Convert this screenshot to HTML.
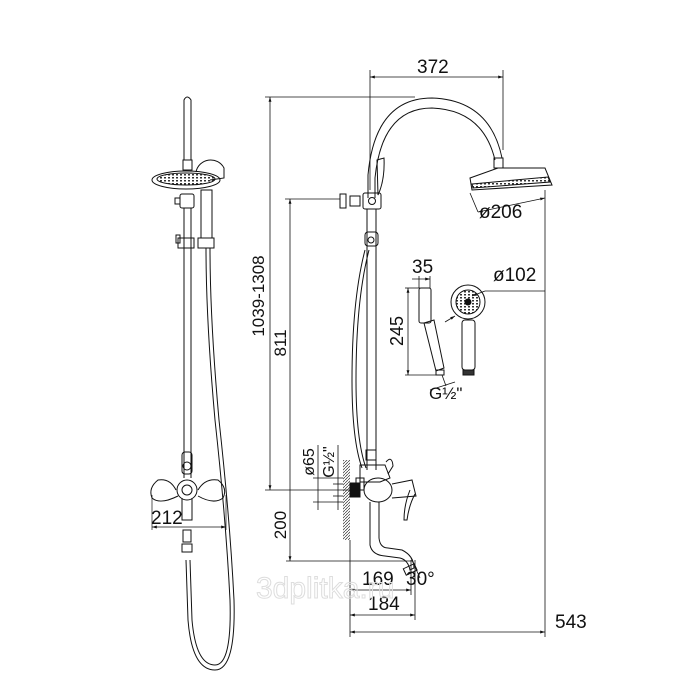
<!DOCTYPE html>
<html><head><meta charset="utf-8"><style>
html,body{margin:0;padding:0;background:#fff;width:700px;height:700px;overflow:hidden}
svg{display:block}
text{font-family:"Liberation Sans",sans-serif;fill:#111}
</style></head><body>
<svg width="700" height="700" viewBox="0 0 700 700" xmlns="http://www.w3.org/2000/svg">
<defs>
<marker id="a" viewBox="0 0 10 10" refX="10" refY="5" markerWidth="6" markerHeight="6" orient="auto-start-reverse"><path d="M0,2 L10,5 L0,8z" fill="#111"/></marker>
<pattern id="h" width="3" height="3" patternUnits="userSpaceOnUse"><path d="M0,3 L3,0" stroke="#333" stroke-width="0.7"/></pattern>
<pattern id="d" width="4" height="3" patternUnits="userSpaceOnUse"><rect x="0" y="0" width="2" height="1.5" fill="#333"/></pattern>
</defs>
<g fill="none" stroke="#111" stroke-width="1">
<path d="M184,100 Q187,94 191,100 L191,160 L184,160 Z"/>
<rect x="183" y="160" width="9" height="10"/>
<ellipse cx="186" cy="180" rx="34" ry="9"/>
<ellipse cx="186" cy="179" rx="29" ry="6" fill="url(#d)"/>
<path d="M196,172 A15,15 0 0 1 224,168 L224,178 L210,180"/>
<rect x="180" y="194" width="14" height="14" rx="2"/>
<rect x="175" y="198" width="5" height="6"/>
<line x1="184" y1="208" x2="184" y2="478"/><line x1="191" y1="208" x2="191" y2="478"/>
<rect x="201" y="190" width="11" height="48"/>
<rect x="198" y="238" width="16" height="10"/>
<rect x="178" y="238" width="16" height="10"/>
<rect x="176" y="235" width="4" height="8"/>
<path d="M206,248 Q206,320 215,420 Q226,520 230,600 Q232,665 215,665 Q196,665 192,620 L190,560"/>
<path d="M210,248 Q210,320 219,420 Q230,520 234,600 Q236,670 215,670 Q192,670 188,620 L186,560"/>
<rect x="182" y="452" width="10" height="22" rx="3"/>
<circle cx="187" cy="466" r="4"/>
<path d="M176,490 Q170,478 158,480 Q148,488 152,498 Q160,505 178,496"/>
<path d="M198,490 Q205,478 218,480 Q228,488 223,498 Q214,505 198,496"/>
<circle cx="187" cy="490" r="10"/><circle cx="187" cy="490" r="5"/>
<path d="M182,498 L182,520 L192,520 L192,498"/>
<rect x="183" y="530" width="8" height="12"/>
<rect x="182" y="544" width="10" height="8"/>
<line x1="152" y1="495" x2="152" y2="530" stroke-width="0.7"/>
<line x1="226" y1="495" x2="226" y2="530" stroke-width="0.7"/>
<line x1="152" y1="527" x2="226" y2="527" stroke-width="0.8" marker-start="url(#a)" marker-end="url(#a)"/>

<g stroke-width="0.8">
<line x1="265" y1="97" x2="415" y2="97"/>
<line x1="270" y1="97" x2="270" y2="490" marker-start="url(#a)" marker-end="url(#a)"/>
<line x1="285" y1="199" x2="340" y2="199"/>
<line x1="290" y1="199" x2="290" y2="490" marker-start="url(#a)"/>
<line x1="265" y1="490" x2="350" y2="490"/>
<line x1="290" y1="490" x2="290" y2="561" marker-end="url(#a)"/>
<line x1="286" y1="561" x2="412" y2="561"/>
<line x1="370" y1="70" x2="370" y2="190"/>
<line x1="503" y1="70" x2="503" y2="150"/>
<line x1="370" y1="77" x2="503" y2="77" marker-start="url(#a)" marker-end="url(#a)"/>
<line x1="545" y1="190" x2="545" y2="637"/>
<line x1="350" y1="540" x2="350" y2="637"/>
<line x1="411" y1="560" x2="411" y2="595"/>
<line x1="415" y1="560" x2="415" y2="620"/>
<line x1="350" y1="590" x2="411" y2="590" marker-start="url(#a)" marker-end="url(#a)"/>
<line x1="350" y1="615" x2="415" y2="615" marker-start="url(#a)" marker-end="url(#a)"/>
<line x1="350" y1="632" x2="545" y2="632" marker-start="url(#a)" marker-end="url(#a)"/>
<line x1="411" y1="558" x2="420" y2="578"/>
<line x1="478" y1="212" x2="545" y2="198" marker-start="url(#a)" marker-end="url(#a)"/>
<line x1="470" y1="193" x2="478" y2="212"/>
<line x1="318" y1="445" x2="318" y2="510"/>
<line x1="338" y1="445" x2="338" y2="510"/>
<line x1="313" y1="478" x2="343" y2="478"/><line x1="313" y1="502" x2="343" y2="502"/>
<line x1="333" y1="484" x2="343" y2="484"/><line x1="333" y1="496" x2="343" y2="496"/>
<line x1="405" y1="288" x2="420" y2="288"/>
<line x1="405" y1="375" x2="440" y2="375"/>
<line x1="408" y1="288" x2="408" y2="375" marker-start="url(#a)" marker-end="url(#a)"/>
<line x1="419" y1="276" x2="419" y2="288"/><line x1="430" y1="276" x2="430" y2="288"/>
<line x1="412" y1="279" x2="430" y2="279" marker-end="url(#a)"/>
<line x1="430" y1="390" x2="455" y2="382" /><line x1="442" y1="375" x2="446" y2="386"/>
<line x1="485" y1="291" x2="545" y2="291"/>
<line x1="485" y1="291" x2="472" y2="296" marker-end="url(#a)"/>
<line x1="445" y1="322" x2="455" y2="316" marker-end="url(#a)"/>
</g>

<path d="M368,198 L368,175 Q375,98 432,98 Q490,100 502,158"/>
<path d="M375,198 L375,178 Q382,108 432,108 Q483,110 495,160"/>
<rect x="494" y="158" width="9" height="10"/>
<path d="M470,178 L498,168 L545,168 L552,185 L472,190 Z"/>
<path d="M472,184 L548,177 L550,182 L473,188 Z" fill="url(#d)"/>
<path d="M377,160 L384,158 Q385,180 378,195 Z"/>
<rect x="363" y="193" width="18" height="16" rx="2"/>
<circle cx="372" cy="201" r="3.5"/>
<rect x="350" y="196" width="10" height="10"/>
<rect x="340" y="194" width="6" height="14"/>
<line x1="367" y1="209" x2="367" y2="470"/><line x1="376" y1="209" x2="376" y2="470"/>
<rect x="365" y="232" width="13" height="14" rx="3"/><circle cx="371" cy="240" r="3"/>
<path d="M365,250 Q352,300 352,380 Q352,440 362,468"/>
<path d="M369,250 Q356,300 356,380 Q356,440 366,468"/>
<rect x="366" y="450" width="10" height="10"/>
<path d="M360,465 L385,465 L390,478 L380,482 L360,482 Z"/>
<path d="M386,462 Q392,455 393,466 L388,474"/>
<rect x="356" y="478" width="8" height="12"/>
<rect x="343" y="460" width="7" height="80" fill="url(#h)" stroke="none"/>
<rect x="350" y="483" width="10" height="14" fill="#111"/>
<ellipse cx="378" cy="490" rx="14" ry="12"/>
<path d="M392,484 L412,480 L416,496 L392,498"/>
<path d="M410,490 Q404,505 404,520 L407,520 Q409,505 415,494"/>
<path d="M370,502 L370,545 Q372,555 385,556 L400,558 Q408,560 410,570 L414,568 Q414,556 402,550 L388,548 Q380,548 379,538 L379,502"/>
<rect x="404" y="566" width="12" height="7" transform="rotate(-25 410 569)"/>
<rect x="419" y="288" width="12" height="35" rx="2"/>
<path d="M424,323 L434,320 L444,368 L436,371 Z"/>
<rect x="436" y="370" width="8" height="5"/>
<circle cx="468" cy="302" r="17"/><circle cx="468" cy="302" r="12" fill="url(#d)"/>
<circle cx="468" cy="302" r="3" fill="#111"/>
<rect x="462" y="320" width="13" height="50" rx="3"/>
<rect x="463" y="370" width="11" height="5" fill="#333"/>
</g>
<g font-size="19">
<text x="151" y="524">212</text>
<text x="417" y="73">372</text>
<text x="479" y="218">ø206</text>
<text x="412" y="273">35</text>
<text x="493" y="281">ø102</text>
<text x="429" y="399" font-size="17">G½"</text>
<text x="555" y="628">543</text>
<text x="362" y="585">169</text>
<text x="368" y="610">184</text>
<text x="406" y="585">30°</text>
</g>
<text transform="translate(264,296) rotate(-90)" font-size="17" text-anchor="middle">1039-1308</text>
<text transform="translate(286,343) rotate(-90)" font-size="17" text-anchor="middle">811</text>
<text transform="translate(286,525) rotate(-90)" font-size="17" text-anchor="middle">200</text>
<text transform="translate(403,331) rotate(-90)" font-size="18" text-anchor="middle">245</text>
<text transform="translate(314,462) rotate(-90)" font-size="16" text-anchor="middle">ø65</text>
<text transform="translate(334,462) rotate(-90)" font-size="16" text-anchor="middle">G½"</text>
<text x="256" y="598" font-size="30" stroke="#ddd" stroke-width="1" style="fill:none">3dplitka.ru</text>
</svg>
</body></html>
